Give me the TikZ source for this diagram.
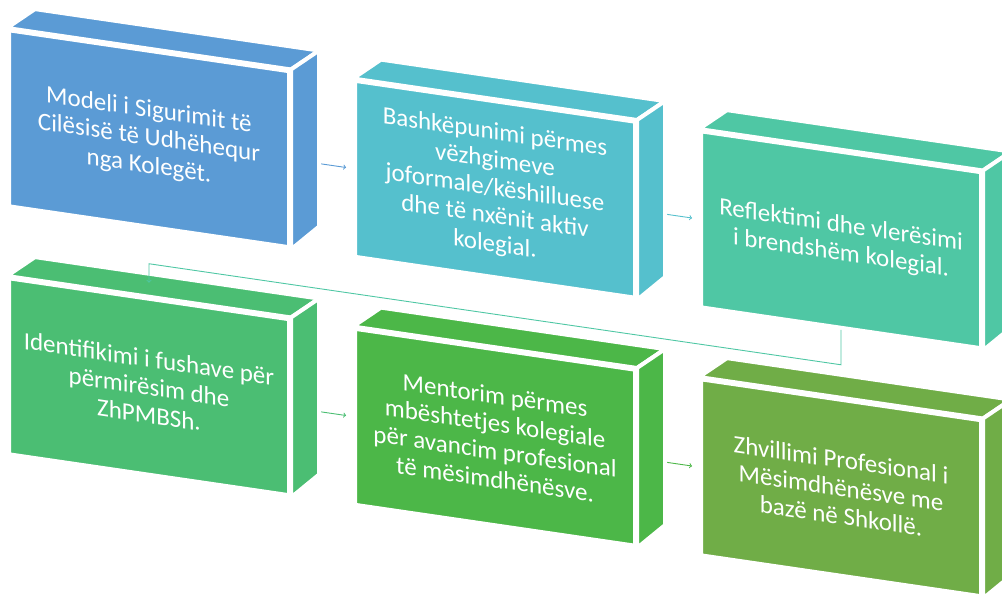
\documentclass[tikz,border=0pt]{standalone}
\usepackage{fontspec}
\setmainfont{Carlito}
\usepackage{xcolor}
\usetikzlibrary{calc,backgrounds}

\definecolor{cOne}{HTML}{5B9BD5}
\definecolor{cTwo}{HTML}{55C0CD}
\definecolor{cThree}{HTML}{4FC7A4}
\definecolor{cFour}{HTML}{4BBE73}
\definecolor{cFive}{HTML}{4CB748}
\definecolor{cSix}{HTML}{70AD47}

\begin{document}
\begin{tikzpicture}[x=1pt,y=1pt,
		front/.style={draw=white, line width=4pt, minimum width=280pt, minimum height=176pt,
			align=center, text=white, font=\fontsize{25}{28}\selectfont, inner sep=0pt},
		face/.style={draw=white, line width=4pt, line join=miter},
		link/.style={line width=0.9pt, ->, shorten >=7pt}]
		\useasboundingbox (0,0) rectangle (1002,594);
		
		\begin{scope}[yslant=-0.146, transform shape]
		% the six boxes: name / position / colour / text
		\foreach \nm/\px/\py/\col/\txt in {
			mOne/149/477/cOne/{Modeli i Sigurimit të\\Cilësisë të Udhëhequr\\nga Kolegët.},
			mTwo/495/477/cTwo/{Bashkëpunimi përmes\\vëzhgimeve\\joformale/këshilluese\\dhe të nxënit aktiv\\kolegial.},
			mThree/841/477/cThree/{Reflektimi dhe vlerësimi\\i brendshëm kolegial.},
			mFour/149/229/cFour/{Identifikimi i fushave për\\përmirësim dhe\\ZhPMBSh.},
			mFive/495/229/cFive/{Mentorim përmes\\mbështetjes kolegiale\\për avancim profesional\\të mësimdhënësve.},
			mSix/841/229/cSix/{Zhvillimi Profesional i\\Mësimdhënësve me\\bazë në Shkollë.}}{
			\node[front, fill=\col] (\nm) at (\px,\py) {\txt};
			\filldraw[face, fill=\col] (\nm.north west) -- ++(28,23) -- ($(\nm.north east)+(28,23)$) -- (\nm.north east) -- cycle;
			\filldraw[face, fill=\col] (\nm.north east) -- ++(28,23) -- ++(0,-176) -- (\nm.south east) -- cycle;
		}
		
		% connectors behind the boxes
		\begin{scope}[on background layer]
			\draw[link, cOne] (mOne.east) -- (mTwo.west);
			\draw[link, cTwo] (mTwo.east) -- (mThree.west);
			\draw[link, cFour] (mFour.east) -- (mFive.west);
			\draw[link, cFive] (mFive.east) -- (mSix.west);
		\end{scope}
		
		% from the third box down to the fourth
		\draw[cThree, line width=0.9pt, ->] (mThree.south) -- ++(0,-35) -| ($(mFour.north)+(0,14)$);
		\end{scope}
	\end{tikzpicture}
\end{document}
